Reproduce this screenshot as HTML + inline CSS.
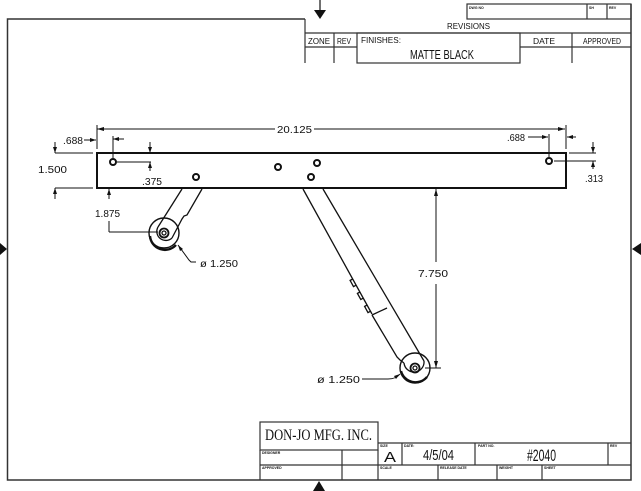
<!DOCTYPE html>
<html><head><meta charset="utf-8"><style>
html,body{margin:0;padding:0;background:#fff;}
svg{display:block;}
text{font-family:"Liberation Sans Narrow","Liberation Sans",sans-serif;fill:#111;}
.s{font-family:"Liberation Serif",serif;}
</style></head><body>
<svg width="641" height="491" viewBox="0 0 641 491" xmlns="http://www.w3.org/2000/svg">
<rect width="641" height="491" fill="#fff"/>
<!-- Border -->
<g stroke="#333" stroke-width="1.5" fill="none">
<polyline points="305,19 7.5,19 7.5,480 631,480 631,4"/>
</g>
<!-- edge arrows -->
<g fill="#111" stroke="#111">
<line x1="320" y1="0" x2="320" y2="10" stroke-width="1.2"/>
<polygon points="314,10 326,10 320,19" stroke="none"/>
<polygon points="313,491 325,491 319,481" stroke="none"/>
<polygon points="0,243 0,255 7,249" stroke="none"/>
<polygon points="641,243 641,255 632,249" stroke="none"/>
</g>
<!-- Revisions block -->
<g stroke="#333" stroke-width="1.2" fill="none">
<rect x="467" y="4" width="164" height="15"/>
<line x1="587" y1="4" x2="587" y2="19"/>
<line x1="607" y1="4" x2="607" y2="19"/>
<line x1="305" y1="19" x2="305" y2="63"/>
<line x1="305" y1="33" x2="631" y2="33"/>
<line x1="305" y1="47" x2="357" y2="47"/>
<line x1="520" y1="47" x2="631" y2="47"/>
<line x1="334" y1="33" x2="334" y2="63"/>
<rect x="357" y="33" width="163" height="30"/>
<line x1="572" y1="33" x2="572" y2="63"/>
</g>
<g font-size="3.5" font-weight="bold">
<text x="469" y="9">DWG NO</text>
<text x="589" y="9">SH</text>
<text x="609" y="9">REV</text>
</g>
<text x="447" y="29" font-size="8" textLength="43" lengthAdjust="spacingAndGlyphs">REVISIONS</text>
<text x="308" y="44" font-size="8" textLength="22" lengthAdjust="spacingAndGlyphs">ZONE</text>
<text x="337" y="44" font-size="8" textLength="14" lengthAdjust="spacingAndGlyphs">REV</text>
<text x="361" y="43" font-size="8" textLength="40" lengthAdjust="spacingAndGlyphs">FINISHES:</text>
<text x="410" y="59" font-size="13" textLength="64" lengthAdjust="spacingAndGlyphs">MATTE BLACK</text>
<text x="533" y="44" font-size="8" textLength="22" lengthAdjust="spacingAndGlyphs">DATE</text>
<text x="583" y="44" font-size="8" textLength="38" lengthAdjust="spacingAndGlyphs">APPROVED</text>

<!-- Title block -->
<g stroke="#333" stroke-width="1.2" fill="none">
<rect x="260" y="422" width="118" height="28"/>
<line x1="260" y1="450" x2="260" y2="480"/>
<line x1="378" y1="443" x2="631" y2="443"/>
<line x1="378" y1="450" x2="378" y2="480"/>
<line x1="260" y1="465" x2="631" y2="465"/>
<line x1="342" y1="450" x2="342" y2="480"/>
<line x1="402" y1="443" x2="402" y2="465"/>
<line x1="475" y1="443" x2="475" y2="465"/>
<line x1="608" y1="443" x2="608" y2="465"/>
<line x1="438" y1="465" x2="438" y2="480"/>
<line x1="497" y1="465" x2="497" y2="480"/>
<line x1="542" y1="465" x2="542" y2="480"/>
</g>
<text class="s" x="265" y="440" font-size="16" textLength="107" lengthAdjust="spacingAndGlyphs">DON-JO MFG. INC.</text>
<g font-size="3.5" font-weight="bold">
<text x="262" y="454">DESIGNER</text>
<text x="262" y="469">APPROVED</text>
<text x="380" y="447">SIZE</text>
<text x="404" y="447">DATE:</text>
<text x="478" y="447">PART NO.</text>
<text x="610" y="447">REV</text>
<text x="380" y="469">SCALE</text>
<text x="440" y="469">RELEASE DATE</text>
<text x="499" y="469">WEIGHT</text>
<text x="544" y="469">SHEET</text>
</g>
<text x="384" y="462" font-size="15" textLength="12" lengthAdjust="spacingAndGlyphs" font-weight="normal">A</text>
<text x="423" y="460" font-size="15" textLength="31" lengthAdjust="spacingAndGlyphs">4/5/04</text>
<text x="527" y="461" font-size="17" textLength="29" lengthAdjust="spacingAndGlyphs">#2040</text>

<!-- Bar -->
<rect x="97" y="153" width="469" height="35" fill="none" stroke="#111" stroke-width="2"/>
<g fill="none" stroke="#111" stroke-width="2">
<circle cx="113" cy="162" r="3"/>
<circle cx="196" cy="177" r="3"/>
<circle cx="278" cy="167" r="3"/>
<circle cx="317" cy="163" r="3"/>
<circle cx="311" cy="177" r="3"/>
<circle cx="549" cy="161" r="3"/>
</g>

<!-- Left arm and wheel -->
<g fill="none" stroke="#111" stroke-width="1.3">
<line x1="182" y1="189" x2="158" y2="227"/>
<polyline points="202,189 187,215 184,216 182,219 172,238"/>
<path d="M158,227 A9,9 0 0 0 172,238"/>
<circle cx="164" cy="233" r="15" stroke-width="1.4"/>
<path d="M150,236 A15,15 0 0 0 176,245" stroke-width="2.4"/>
<circle cx="164" cy="233" r="4.5" stroke-width="1.8"/>
<circle cx="164" cy="233" r="2"/>
</g>

<!-- Right arm and wheel -->
<g fill="none" stroke="#111" stroke-width="1.3">
<line x1="303" y1="189" x2="372" y2="314"/>
<line x1="372" y1="315" x2="387" y2="308"/>
<polyline points="372,315 397,357 400,360 404,363"/>
<line x1="323" y1="189" x2="424" y2="361"/>
<path d="M404,363 A10,10 0 0 0 424,361"/>
<polyline points="352.7,279 350.1,280.4 353.5,286.6 356.1,285.2"/>
<polyline points="360,292 357.4,293.4 360.8,299.5 363.4,298.1"/>
<polyline points="367.2,305 364.6,306.4 368,312.6 370.6,311.2"/>
<circle cx="415" cy="368" r="15" stroke-width="1.4"/>
<path d="M401,371 A15,15 0 0 0 427,377" stroke-width="2.4"/>
<circle cx="415" cy="368" r="4.5" stroke-width="1.8"/>
<circle cx="415" cy="368" r="2"/>
</g>

<!-- Dimension lines -->
<g fill="none" stroke="#111" stroke-width="1">
<line x1="97" y1="129" x2="275" y2="129"/>
<line x1="314" y1="129" x2="565" y2="129"/>
<line x1="97" y1="125" x2="97" y2="149"/>
<line x1="566" y1="125" x2="566" y2="149"/>
<line x1="84" y1="140" x2="96" y2="140"/>
<line x1="113" y1="136" x2="113" y2="158"/>
<line x1="113" y1="139" x2="124" y2="139"/>
<line x1="55" y1="153" x2="93" y2="153"/>
<line x1="55" y1="188" x2="93" y2="188"/>
<line x1="55" y1="142" x2="55" y2="153"/>
<line x1="55" y1="188" x2="55" y2="199"/>
<line x1="117" y1="162" x2="151" y2="162"/>
<line x1="150" y1="142" x2="150" y2="153"/>
<line x1="150" y1="162" x2="150" y2="171"/>
<line x1="109" y1="189" x2="109" y2="199"/>
<line x1="109" y1="221" x2="109" y2="232"/>
<line x1="109" y1="232" x2="158" y2="232"/>
<polyline points="178,245 189,260 191,262 196,262"/>
<line x1="436" y1="189" x2="436" y2="262"/>
<line x1="436" y1="284" x2="436" y2="368"/>
<line x1="425" y1="368" x2="441" y2="368"/>
<path d="M362,379 L388,379 Q396,379 400,374"/>
<line x1="528" y1="137" x2="548" y2="137"/>
<line x1="549" y1="134" x2="549" y2="157"/>
<line x1="567" y1="137" x2="576" y2="137"/>
<line x1="569" y1="153" x2="596" y2="153"/>
<line x1="554" y1="161" x2="596" y2="161"/>
<line x1="593" y1="142" x2="593" y2="153"/>
<line x1="593" y1="161" x2="593" y2="169"/>
</g>
<!-- Arrowheads -->
<g fill="#111">
<polygon points="97,129 104,127 104,131"/>
<polygon points="565,129 558,127 558,131"/>
<polygon points="96,140 90,138 90,142"/>
<polygon points="113,139 119,137 119,141"/>
<polygon points="55,153 53,147 57,147"/>
<polygon points="55,188 53,194 57,194"/>
<polygon points="150,153 148,147 152,147"/>
<polygon points="150,162 148,168 152,168"/>
<polygon points="109,189 107,195 111,195"/>
<polygon points="178,245 183,249 180,251"/>
<polygon points="436,189 434,196 438,196"/>
<polygon points="436,368 434,361 438,361"/>
<polygon points="400,374 394,376 396,379"/>
<polygon points="548,137 542,135 542,139"/>
<polygon points="567,137 573,135 573,139"/>
<polygon points="593,153 591,147 595,147"/>
<polygon points="593,161 591,167 595,167"/>
</g>
<!-- Dimension text -->
<g font-size="10">
<text x="277" y="133" textLength="35" lengthAdjust="spacingAndGlyphs">20.125</text>
<text x="63" y="144" textLength="20" lengthAdjust="spacingAndGlyphs">.688</text>
<text x="38" y="173" textLength="29" lengthAdjust="spacingAndGlyphs">1.500</text>
<text x="142" y="185" textLength="20" lengthAdjust="spacingAndGlyphs">.375</text>
<text x="95" y="217" textLength="25" lengthAdjust="spacingAndGlyphs">1.875</text>
<text x="200" y="267" textLength="38" lengthAdjust="spacingAndGlyphs">ø 1.250</text>
<text x="418" y="277" textLength="30" lengthAdjust="spacingAndGlyphs">7.750</text>
<text x="317" y="383" textLength="43" lengthAdjust="spacingAndGlyphs">ø 1.250</text>
<text x="507" y="141" textLength="18" lengthAdjust="spacingAndGlyphs">.688</text>
<text x="585" y="182" textLength="18" lengthAdjust="spacingAndGlyphs">.313</text>
</g>
</svg>
</body></html>
